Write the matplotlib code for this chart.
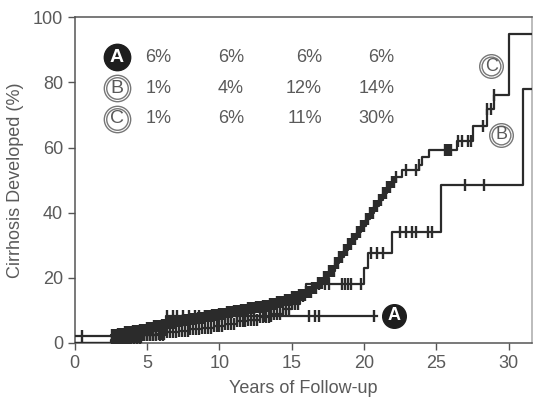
import numpy as np
import matplotlib
matplotlib.use("Agg")
import matplotlib.pyplot as plt

plt.rcParams['font.family'] = ['Liberation Sans', 'DejaVu Sans']

# step curves (time in years, cumulative % with cirrhosis)
a_t = [0, 2.6, 3.6, 4.6, 6.3, 20.9]
a_y = [0, 1.0, 1.6, 2.4, 8.4, 8.4]

b_t = [0, 2.5, 3.2, 4.0, 4.8, 5.6, 6.4, 7.2, 8.0, 8.8, 9.6, 10.4, 11.2, 12.0,
       12.8, 13.6, 14.4, 15.0, 15.6, 16.0, 20.0, 20.3, 21.9, 25.3, 31.0]
b_y = [0, 1.0, 1.4, 1.8, 2.3, 2.8, 3.3, 3.8, 4.2, 4.7, 5.3, 5.9, 6.6, 7.2,
       8.0, 9.0, 10.5, 12.0, 14.5, 18.2, 23.0, 27.5, 34.0, 48.6, 78.0]

c_t = [0, 2.5, 3.0, 3.5, 4.0, 4.5, 5.0, 5.5, 6.0, 6.5, 7.0, 7.5, 8.0, 8.5, 9.0,
       9.5, 10.0, 10.5, 11.0, 11.5, 12.0, 12.5, 13.0, 13.5, 14.0, 14.5, 15.0,
       15.5, 16.0, 16.4, 16.8, 17.2, 17.6, 18.0, 18.3, 18.6, 18.9, 19.2, 19.5,
       19.8, 20.1, 20.4, 20.7, 21.0, 21.3, 21.6, 21.9, 22.2, 22.6, 23.8, 24.0,
       24.5, 26.4, 27.5, 28.5, 29.0, 30.0]
c_y = [2.2, 2.5, 2.9, 3.3, 3.7, 4.1, 4.6, 5.1, 5.6, 6.1, 6.6, 7.0, 7.4, 7.8, 8.2,
       8.6, 9.0, 9.4, 9.8, 10.2, 10.6, 11.0, 11.5, 12.0, 12.6, 13.3, 14.0,
       14.8, 15.8, 17.0, 18.5, 20.2, 22.2, 24.5, 26.5, 28.5, 30.3, 32.0, 34.0,
       36.0, 38.0, 40.0, 42.0, 44.0, 46.0, 48.0, 49.5, 51.0, 53.0, 54.8, 57.2,
       59.4, 62.0, 66.5, 71.7, 76.0, 95.0]

# censored observations
a_cens = [2.7, 2.9, 3.1, 3.3, 3.5, 3.7, 3.9, 4.1, 4.3, 4.5, 4.7, 4.8, 5.0,
          5.2, 5.4, 5.6, 5.9, 6.1, 6.4, 6.8, 7.1, 7.5, 7.9, 8.3, 8.6, 9.0,
          9.5, 10.0, 10.6, 11.2, 11.8, 12.4, 13.1, 13.6, 16.2, 16.6, 16.9,
          20.7]
b_cens = [2.6, 2.8, 3.0, 3.2, 3.4, 3.6, 3.8, 4.0, 4.2, 4.4, 4.6, 4.8, 5.0,
          5.2, 5.4, 5.6, 5.8, 6.0, 6.2, 6.4, 6.6, 6.8, 7.0, 7.2, 7.4, 7.6,
          7.8, 8.0, 8.2, 8.4, 8.6, 8.8, 9.0, 9.2, 9.4, 9.6, 9.8, 10.0, 10.2,
          10.4, 10.6, 10.8, 11.0, 11.2, 11.4, 11.6, 11.8, 12.0, 12.2, 12.4,
          12.6, 12.8, 13.0, 13.2, 13.4, 13.6, 13.8, 14.0, 14.2, 14.4, 14.6,
          14.8, 15.0, 15.2, 15.4, 15.8, 16.9, 17.3, 17.6, 18.5, 18.7, 18.9,
          19.1, 19.8, 20.5, 20.9, 21.3, 22.5, 22.9, 23.3, 23.6, 24.4, 24.7,
          27.0, 28.3]
c_cens = [0.5, 2.6, 2.7, 2.8, 2.9, 3.0, 3.1, 3.2, 3.3, 3.4, 3.5, 3.6, 3.7,
          3.8, 3.9, 4.0, 4.1, 4.2, 4.3, 4.4, 4.5, 4.6, 4.7, 4.8, 4.9, 5.0,
          5.1, 5.2, 5.3, 5.4, 5.5, 5.6, 5.7, 5.8, 5.9, 6.0, 6.1, 6.2, 6.3,
          6.4, 6.5, 6.6, 6.7, 6.8, 6.9, 7.0, 7.1, 7.2, 7.3, 7.4, 7.5, 7.6,
          7.7, 7.8, 7.9, 8.0, 8.1, 8.2, 8.3, 8.4, 8.5, 8.6, 8.7, 8.8, 8.9,
          9.0, 9.1, 9.2, 9.3, 9.4, 9.5, 9.6, 9.7, 9.8, 9.9, 10.0, 10.1, 10.2,
          10.3, 10.4, 10.5, 10.6, 10.7, 10.8, 10.9, 11.0, 11.1, 11.2, 11.3,
          11.4, 11.5, 11.6, 11.7, 11.8, 11.9, 12.0, 12.1, 12.2, 12.3, 12.4,
          12.5, 12.6, 12.7, 12.8, 12.9, 13.0, 13.1, 13.2, 13.3, 13.4, 13.5,
          13.6, 13.7, 13.8, 13.9, 14.0, 14.1, 14.2, 14.3, 14.4, 14.5, 14.6,
          14.7, 14.8, 14.9, 15.0, 15.1, 15.2, 15.3, 15.4, 15.5, 15.6, 15.7,
          15.8, 15.9, 16.0, 16.1, 16.2, 16.3, 16.4, 16.5, 16.6, 16.7, 16.8,
          16.9, 17.0, 17.1, 17.2, 17.3, 17.4, 17.5, 17.6, 17.7, 17.8, 17.9,
          18.0, 18.1, 18.2, 18.3, 18.4, 18.5, 18.6, 18.7, 18.8, 18.9, 19.0,
          19.1, 19.2, 19.3, 19.4, 19.5, 19.6, 19.7, 19.8, 19.9, 20.0, 20.1,
          20.2, 20.3, 20.4, 20.5, 20.6, 20.7, 20.8, 20.9, 21.0, 21.1, 21.2,
          21.3, 21.4, 21.5, 21.6, 21.7, 21.8, 21.9, 22.0, 22.1, 22.2, 22.9,
          23.6, 23.8, 25.6, 25.7, 25.8, 25.9, 26.0, 26.5, 26.8, 27.2, 27.4,
          28.2, 28.5, 28.8, 29.0]

groups = ['A', 'B', 'C']
table_rows = [['6%', '6%', '6%', '6%'],
              ['1%', '4%', '12%', '14%'],
              ['1%', '6%', '11%', '30%']]

XMAX = 31.6
line_c = '#2b2b2b'
text_c = '#5a5a5a'

fig = plt.figure(figsize=(5.34, 4.03), dpi=100)
ax = fig.add_axes([0.140, 0.149, 0.856, 0.808])


def value_at(t, y, times):
    t = np.asarray(t)
    y = np.asarray(y)
    idx = np.searchsorted(t, times, side='right') - 1
    return y[idx]


for t, y, cens, extend in [(a_t, a_y, a_cens, False),
                           (b_t, b_y, b_cens, True),
                           (c_t, c_y, c_cens, True)]:
    tt = list(t) + ([XMAX] if extend else [])
    yy = list(y) + ([y[-1]] if extend else [])
    ax.step(tt, yy, where='post', color=line_c, lw=1.6, zorder=3)
    ax.plot(cens, value_at(t, y, cens), ls='none', marker='|', ms=8,
            mew=1.7, color=line_c, zorder=4)


def circled(x, y, letter, filled, ms=17, fs=13):
    if filled:
        ax.plot(x, y, 'o', ms=ms, color='#1e1e1e', zorder=6, clip_on=False)
        ax.text(x, y, letter, color='white', fontsize=fs, fontweight='bold',
                ha='center', va='center', zorder=7)
    else:
        ax.plot(x, y, 'o', ms=ms, mfc='white', mec='#777777', mew=1.0,
                zorder=6, clip_on=False)
        ax.plot(x, y, 'o', ms=ms - 3.5, mfc='none', mec='#777777', mew=1.0,
                zorder=6, clip_on=False)
        ax.text(x, y, letter, color=text_c, fontsize=fs,
                ha='center', va='center', zorder=7)


# curve labels
circled(22.1, 8.3, 'A', True)
circled(29.5, 64.0, 'B', False)
circled(28.8, 85.0, 'C', False)

# table
row_y = [87.7, 78.2, 68.9]
col_x = [6.7, 11.7, 17.1, 22.1]
for g, ry, row in zip(groups, row_y, table_rows):
    circled(2.9, ry, g, g == 'A', ms=19, fs=14)
    for cx, s in zip(col_x, row):
        ax.text(cx, ry, s, ha='right', va='center', fontsize=13, color=text_c)

ax.set_xlim(0, XMAX)
ax.set_ylim(0, 100)
ax.set_xticks([0, 5, 10, 15, 20, 25, 30])
ax.set_yticks([0, 20, 40, 60, 80, 100])
ax.tick_params(direction='out', length=5, width=1, colors='#555555',
               labelsize=13, labelcolor=text_c)
for s in ax.spines.values():
    s.set_color('#555555')
    s.set_linewidth(1.1)
ax.spines['right'].set_color('#aaaaaa')

ax.set_xlabel('Years of Follow-up', fontsize=13, color=text_c, labelpad=6)
ax.set_ylabel('Cirrhosis Developed (%)', fontsize=13, color=text_c, labelpad=6)

fig.savefig('out.png', dpi=100)
